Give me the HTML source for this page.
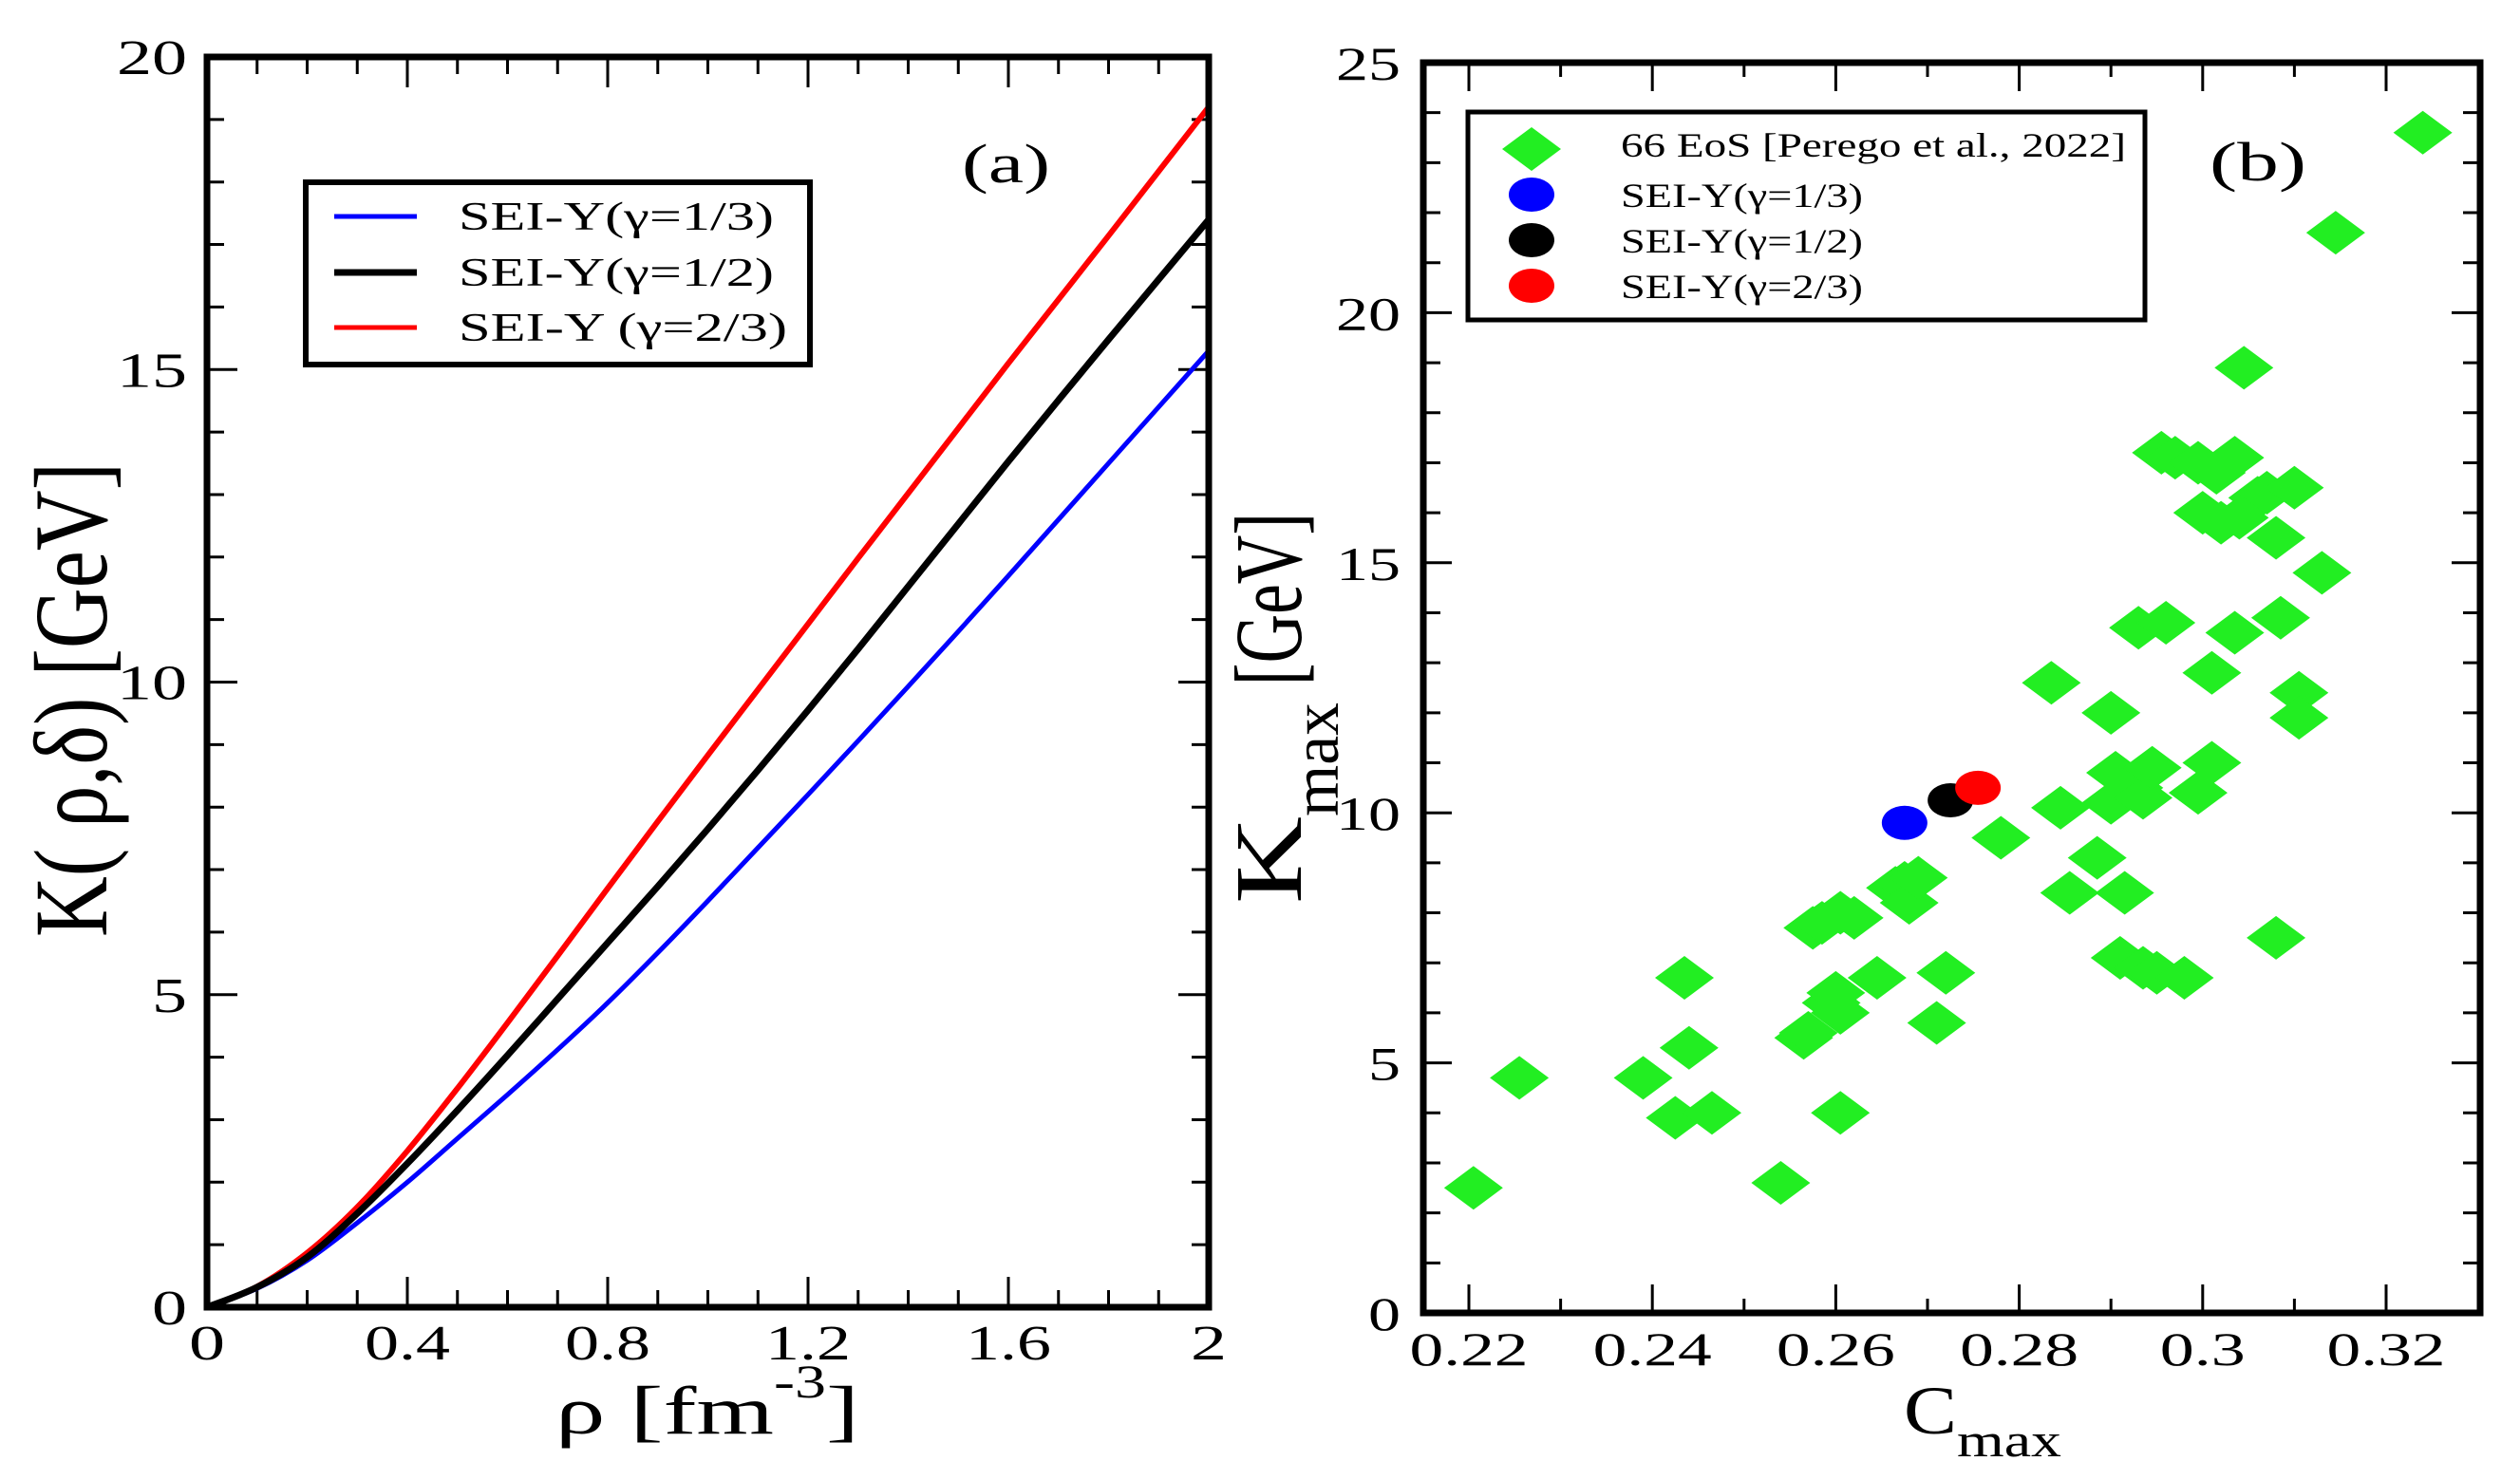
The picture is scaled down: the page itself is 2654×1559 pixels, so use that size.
<!DOCTYPE html>
<html><head><meta charset="utf-8"><style>html,body{margin:0;padding:0;background:#fff}svg{display:block}text{font-family:"Liberation Serif",serif;fill:#000}</style></head>
<body>
<svg id="fig" width="2654" height="1559" viewBox="0 0 2654 1559" xmlns="http://www.w3.org/2000/svg">
<g id="pa"></g>
<g id="pb"></g>
</svg>
<script>
// Panel (a) data
const rhoVals = [0,0.1,0.2,0.3,0.4,0.5,0.6,0.7,0.8,0.9,1.0,1.1,1.2,1.3,1.4,1.5,1.6,1.7,1.8,1.9,2.0];
const kBlue  = [0,0.3,0.75,1.35,2.0,2.7,3.4,4.12,4.87,5.67,6.5,7.35,8.2,9.06,9.93,10.81,11.7,12.6,13.5,14.4,15.3];
const kBlack = [0,0.32,0.8,1.5,2.3,3.15,4.03,4.93,5.83,6.73,7.65,8.59,9.55,10.53,11.53,12.53,13.53,14.51,15.48,16.44,17.4];
const kRed   = [0,0.33,0.87,1.6,2.5,3.5,4.55,5.62,6.7,7.77,8.83,9.88,10.93,11.98,13.02,14.06,15.1,16.12,17.14,18.17,19.2];
const aXTicks = ["0","0.4","0.8","1.2","1.6","2"];
const aYTicks = ["0","5","10","15","20"];
// Panel (b) data
const eosC = [0.2205,0.2255,0.239,0.2425,0.2435,0.244,0.2465,0.254,0.2565,0.257,0.2575,0.2585,0.2595,0.26,0.2605,0.2605,0.262,0.2605,0.2645,0.2665,0.2675,0.268,0.269,0.271,0.272,0.278,0.2835,0.2845,0.2855,0.2885,0.29,0.29,0.2905,0.291,0.2915,0.2925,0.293,0.2935,0.2935,0.2945,0.295,0.296,0.2955,0.297,0.298,0.2995,0.2995,0.3,0.301,0.301,0.3015,0.302,0.3035,0.3035,0.304,0.3045,0.306,0.307,0.308,0.3085,0.308,0.31,0.3105,0.3105,0.313,0.3145,0.324];
const eosK = [2.5,4.7,4.7,3.9,6.7,5.3,4.0,2.6,5.5,5.6,7.7,7.8,6.2,6.4,8.0,6.0,7.9,4.0,6.7,8.5,8.6,8.2,8.7,5.8,6.8,9.5,12.6,10.1,8.4,9.1,12.0,10.2,10.8,7.1,8.4,10.5,13.7,10.3,6.9,10.9,6.8,13.8,17.2,17.1,6.7,17.0,10.4,16.0,12.8,11.0,16.8,15.8,13.6,17.1,15.9,18.9,16.3,16.4,15.5,13.9,7.5,16.5,12.4,11.9,14.8,21.6,23.6];
const seiC = [0.2675,0.2725,0.2755];
const seiK = [9.8,10.25,10.5];
const seiColors = ["#0000ff","#000000","#ff0000"];
const bXTicks = ["0.22","0.24","0.26","0.28","0.3","0.32"];
const bYTicks = ["0","5","10","15","20","25"];

const NS="http://www.w3.org/2000/svg";
function mk(parent,tag,attrs){const e=document.createElementNS(NS,tag);for(const k in attrs)e.setAttribute(k,attrs[k]);parent.appendChild(e);return e;}
function txt(parent,x,y,s,size,len,anchor){const t=mk(parent,'text',{x:x,y:y,'font-size':size,'text-anchor':anchor||'start'});if(len){t.setAttribute('textLength',len);t.setAttribute('lengthAdjust','spacingAndGlyphs');}t.textContent=s;return t;}

// ---------- Panel A ----------
const pa=document.getElementById('pa');
const aL=218,aR=1273,aT=60,aB=1377;
const ax=v=>aL+(v-0)/(2-0)*(aR-aL);
const ay=v=>aB-(v-0)/(20-0)*(aB-aT);
for(let i=0;i<=20;i++){const v=i*0.1;const maj=(i%4===0);const L=maj?32:18;
 const t1=mk(pa,'line',{x1:ax(v),x2:ax(v),y1:aB,y2:aB-L,stroke:'#000','stroke-width':3});
 
 mk(pa,'line',{x1:ax(v),x2:ax(v),y1:aT,y2:aT+L,stroke:'#000','stroke-width':3});}
for(let i=0;i<=20;i++){const maj=(i%5===0);const L=maj?32:18;
 const t1=mk(pa,'line',{x1:aL,x2:aL+L,y1:ay(i),y2:ay(i),stroke:'#000','stroke-width':3});
 
 mk(pa,'line',{x1:aR,x2:aR-L,y1:ay(i),y2:ay(i),stroke:'#000','stroke-width':3});}
aXTicks.forEach((s,i)=>{const v=i*0.4;const t=txt(pa,ax(v),1432,s,52,s.length===1?38:90,'middle');
 });
aYTicks.forEach((s,i)=>{const t=txt(pa,197,ay(i*5)+18,s,52,s.length===1?37:74,'end');
 });
function curve(parent,xs,ys,fx,fy,color,w,name){
 const P=xs.map((x,i)=>[fx(x),fy(ys[i])]);let d='M'+P[0][0]+','+P[0][1];
 for(let i=0;i<P.length-1;i++){const p0=P[Math.max(0,i-1)],p1=P[i],p2=P[i+1],p3=P[Math.min(P.length-1,i+2)];
  d+=' C'+(p1[0]+(p2[0]-p0[0])/6)+','+(p1[1]+(p2[1]-p0[1])/6)+' '+(p2[0]-(p3[0]-p1[0])/6)+','+(p2[1]-(p3[1]-p1[1])/6)+' '+p2[0]+','+p2[1];}
 const e=mk(parent,'path',{d:d,fill:'none',stroke:color,'stroke-width':w,'stroke-linejoin':'round'});
 }
curve(pa,rhoVals,kBlue,ax,ay,'#0000ff',5,'line-gamma-1-3');
curve(pa,rhoVals,kRed,ax,ay,'#ff0000',6,'line-gamma-2-3');
curve(pa,rhoVals,kBlack,ax,ay,'#000000',7,'line-gamma-1-2');
let fr=mk(pa,'rect',{x:aL,y:aT,width:aR-aL,height:aB-aT,fill:'none',stroke:'#000','stroke-width':7});

// legend a
const lga=mk(pa,'g',{});
mk(lga,'rect',{x:322,y:192,width:531,height:192,fill:'#fff',stroke:'#000','stroke-width':6});
[['#0000ff','SEI-Y(γ=1/3)',228,332],['#000000','SEI-Y(γ=1/2)',287,332],['#ff0000','SEI-Y (γ=2/3)',345,346]].forEach(r=>{
 const e=mk(lga,'line',{x1:352,x2:439,y1:r[2],y2:r[2],stroke:r[0],'stroke-width':r[0]==='#000000'?7:5});
 
 txt(lga,483,r[2]+14,r[1],42,r[3]);});
let la=txt(pa,1013,192,'(a)',58,93);
// axis titles a
let yt=mk(pa,'text',{transform:'translate(112,987) rotate(-90) scale(1,1.45)','font-size':76});

yt.setAttribute('textLength',500);yt.setAttribute('lengthAdjust','spacingAndGlyphs');yt.textContent='K( ρ,δ) [GeV]';
let xt=mk(pa,'text',{x:585,y:1510,'font-size':72});

xt.innerHTML='<tspan textLength="230" lengthAdjust="spacingAndGlyphs">ρ  [fm</tspan><tspan dy="-38" font-size="50" textLength="55" lengthAdjust="spacingAndGlyphs">-3</tspan><tspan dy="38" textLength="35" lengthAdjust="spacingAndGlyphs">]</tspan>';

// ---------- Panel B ----------
const pb=document.getElementById('pb');
const bL=1499,bR=2612,bT=66,bB=1383;
const bx=v=>1547+(v-0.22)/0.1*(2513-1547);
const by=v=>bB-v/25*(bB-bT);
for(let i=22;i<=32;i++){const v=i/100;const maj=(i%2===0);const L=maj?30:15;
 const t1=mk(pb,'line',{x1:bx(v),x2:bx(v),y1:bB,y2:bB-L,stroke:'#000','stroke-width':3});
 
 mk(pb,'line',{x1:bx(v),x2:bx(v),y1:bT,y2:bT+L,stroke:'#000','stroke-width':3});}
for(let i=0;i<=25;i++){const maj=(i%5===0);const L=maj?30:18;
 const t1=mk(pb,'line',{x1:bL,x2:bL+L,y1:by(i),y2:by(i),stroke:'#000','stroke-width':3});
 
 mk(pb,'line',{x1:bR,x2:bR-L,y1:by(i),y2:by(i),stroke:'#000','stroke-width':3});}
bXTicks.forEach((s,i)=>{const v=0.22+i*0.02;const t=txt(pb,bx(v),1438,s,50,s.length===3?90:125,'middle');
 });
bYTicks.forEach((s,i)=>{const t=txt(pb,1475,by(i*5)+18,s,50,s.length===1?34:68,'end');
 });
function diamond(parent,cx,cy){return mk(parent,'polygon',{points:(cx-31)+','+cy+' '+cx+','+(cy-23)+' '+(cx+31)+','+cy+' '+cx+','+(cy+23),fill:'#22ee22'});}
eosC.forEach((c,i)=>{const d=diamond(pb,bx(c),by(eosK[i]));
 });
seiC.forEach((c,i)=>{const e=mk(pb,'ellipse',{cx:bx(c),cy:by(seiK[i]),rx:24,ry:18,fill:seiColors[i]});
 });
fr=mk(pb,'rect',{x:bL,y:bT,width:bR-bL,height:bB-bT,fill:'none',stroke:'#000','stroke-width':7});

// legend b
const lgb=mk(pb,'g',{});
mk(lgb,'rect',{x:1546,y:118,width:713,height:219,fill:'#fff',stroke:'#000','stroke-width':5});
let de=diamond(lgb,1613,157);
txt(lgb,1707,165,'66 EoS [Perego et al., 2022]',36,532);
['SEI-Y(γ=1/3)','SEI-Y(γ=1/2)','SEI-Y(γ=2/3)'].forEach((s,i)=>{const cy=205+i*48;
 const e=mk(lgb,'ellipse',{cx:1613,cy:cy,rx:24,ry:18,fill:seiColors[i]});
 
 txt(lgb,1707,cy+13,s,36,255);});
let lb=txt(pb,2327,190,'(b)',58,102);
let xtb=mk(pb,'text',{x:2005,y:1510,'font-size':72});

xtb.innerHTML='<tspan textLength="56" lengthAdjust="spacingAndGlyphs">C</tspan><tspan dy="24" font-size="50" textLength="110" lengthAdjust="spacingAndGlyphs">max</tspan>';
let ytb=mk(pb,'text',{transform:'translate(1370,952) rotate(-90) scale(1,1.4)','font-size':72});

ytb.innerHTML='<tspan textLength="92" lengthAdjust="spacingAndGlyphs">K</tspan><tspan dy="28" font-size="50" textLength="120" lengthAdjust="spacingAndGlyphs">max</tspan><tspan dy="-28" textLength="200" lengthAdjust="spacingAndGlyphs"> [GeV]</tspan>';
</script>
</body></html>
